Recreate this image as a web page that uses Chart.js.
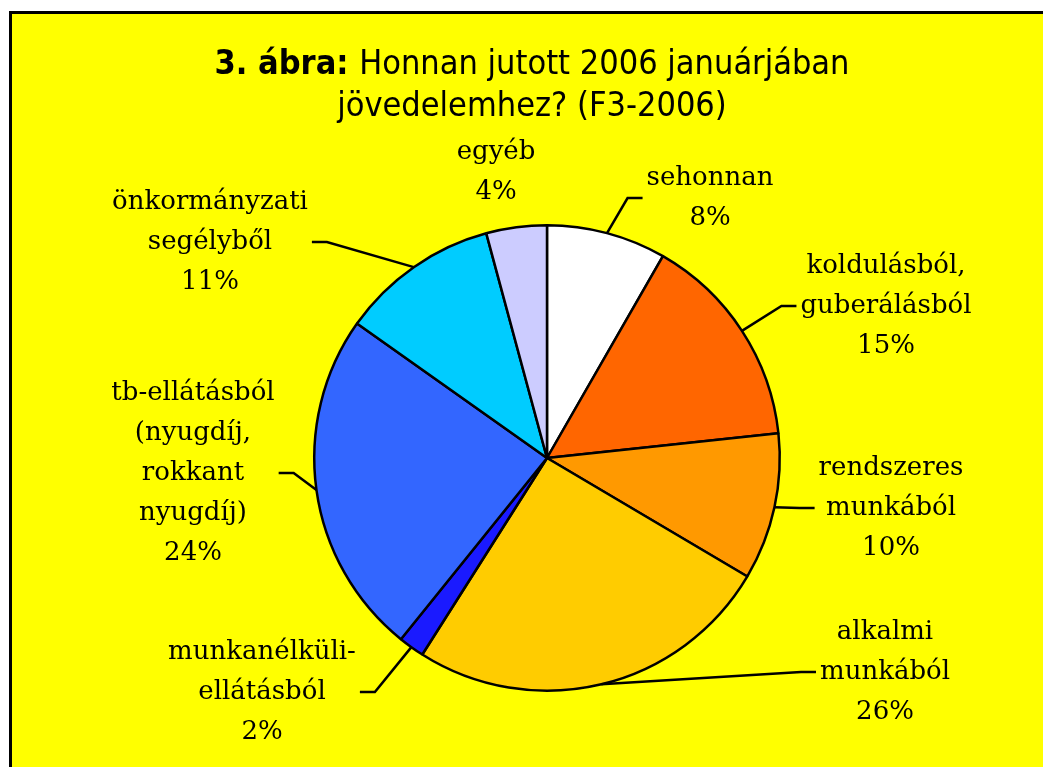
<!DOCTYPE html>
<html>
<head>
<meta charset="utf-8">
<script src="https://cdn.jsdelivr.net/npm/chart.js@4.4.1/dist/chart.umd.min.js"></script>
<style>
  body { margin: 0; background: #fff; }
  #frame {
    position: absolute; left: 9px; top: 11px; width: 1100px; height: 800px;
    background: #ffff00; border-left: 3px solid #000; border-top: 3px solid #000;
  }
  #myChart { position: absolute; left: 0; top: 0; }
</style>
</head>
<body>
<div id="frame"></div>
<canvas id="myChart" width="1043" height="767"></canvas>
<script>
// slices, clockwise from 12 o'clock
const categories = [
  ['sehonnan'],
  ['koldulásból,', 'guberálásból'],
  ['rendszeres', 'munkából'],
  ['alkalmi', 'munkából'],
  ['munkanélküli-', 'ellátásból'],
  ['tb-ellátásból', '(nyugdíj,', 'rokkant', 'nyugdíj)'],
  ['önkormányzati', 'segélyből'],
  ['egyéb']
];
const shares = [8.3, 15.0, 10.2, 25.5, 1.8, 24.0, 11.0, 4.2];
const pctLabels = ['8%', '15%', '10%', '26%', '2%', '24%', '11%', '4%'];

const colors = ['#ffffff', '#ff6600', '#ff9900', '#ffcc00', '#1a1aff', '#3366ff', '#00ccff', '#ccccff'];

// label block centre, offset from pie centre; side = where the leader line meets the text
const labelPos = [
  {dx: 163, dy: -260, side: 'left'},
  {dx: 339, dy: -152, side: 'left'},
  {dx: 344, dy: 50, side: 'left'},
  {dx: 338, dy: 214, side: 'left'},
  {dx: -285, dy: 234, side: 'right'},
  {dx: -354, dy: 15, side: 'right'},
  {dx: -337, dy: -216, side: 'right'},
  {dx: -51, dy: -286, side: null}
];

const labelFont = '26px "DejaVu Serif"';
const lineH = 40;
const titleFont = '34px "Liberation Sans Narrow", "DejaVu Sans Condensed", sans-serif';

const pieLabels = {
  id: 'pieLabels',
  afterDraw(chart) {
    const ctx = chart.ctx;
    const meta = chart.getDatasetMeta(0);
    ctx.save();
    ctx.font = labelFont;
    ctx.fillStyle = '#000';
    ctx.strokeStyle = '#000';
    ctx.lineWidth = 2.5;
    ctx.textAlign = 'center';
    ctx.textBaseline = 'middle';
    meta.data.forEach((arc, i) => {
      const p = labelPos[i];
      const lines = categories[i].concat([pctLabels[i]]);
      const cx = arc.x + p.dx, cy = arc.y + p.dy;
      const n = lines.length;
      lines.forEach((t, k) => ctx.fillText(t, cx, cy + (k - (n - 1) / 2) * lineH));
      if (!p.side) return;
      const w = Math.max(...lines.map(t => ctx.measureText(t).width));
      const mid = (arc.startAngle + arc.endAngle) / 2;
      const x0 = arc.x + Math.cos(mid) * arc.outerRadius;
      const y0 = arc.y + Math.sin(mid) * arc.outerRadius;
      const xe = p.side === 'left' ? cx - w / 2 - 4 : cx + w / 2 + 4;
      const xm = p.side === 'left' ? xe - 15 : xe + 15;
      ctx.beginPath();
      ctx.moveTo(x0, y0);
      ctx.lineTo(xm, cy);
      ctx.lineTo(xe, cy);
      ctx.stroke();
    });
    ctx.restore();
  }
};

const titlePlugin = {
  id: 'titleText',
  afterDraw(chart) {
    const ctx = chart.ctx;
    const x = 532;
    const bold = '3. ábra: ';
    const rest = 'Honnan jutott 2006 januárjában';
    ctx.save();
    ctx.fillStyle = '#000';
    ctx.textBaseline = 'alphabetic';
    ctx.font = 'bold ' + titleFont;
    const wb = ctx.measureText(bold).width;
    ctx.font = titleFont;
    const wr = ctx.measureText(rest).width;
    const left = x - (wb + wr) / 2;
    ctx.textAlign = 'left';
    ctx.font = 'bold ' + titleFont;
    ctx.fillText(bold, left, 74);
    ctx.font = titleFont;
    ctx.fillText(rest, left + wb, 74);
    ctx.textAlign = 'center';
    ctx.fillText('jövedelemhez? (F3-2006)', x, 116);
    ctx.restore();
  }
};

const cfg = {
  type: 'pie',
  data: {
    labels: categories.map(c => c.join(' ')),
    datasets: [{
      data: shares,
      backgroundColor: colors,
      borderColor: '#000',
      borderWidth: 2.5
    }]
  },
  options: {
    responsive: false,
    animation: false,
    layout: {
      padding: {left: 313, top: 224, right: 262, bottom: 75}
    },
    plugins: {
      legend: {display: false},
      tooltip: {enabled: false}
    }
  },
  plugins: [pieLabels, titlePlugin]
};

const ctx = document.getElementById('myChart');
new Chart(ctx, cfg);
</script>
</body>
</html>
